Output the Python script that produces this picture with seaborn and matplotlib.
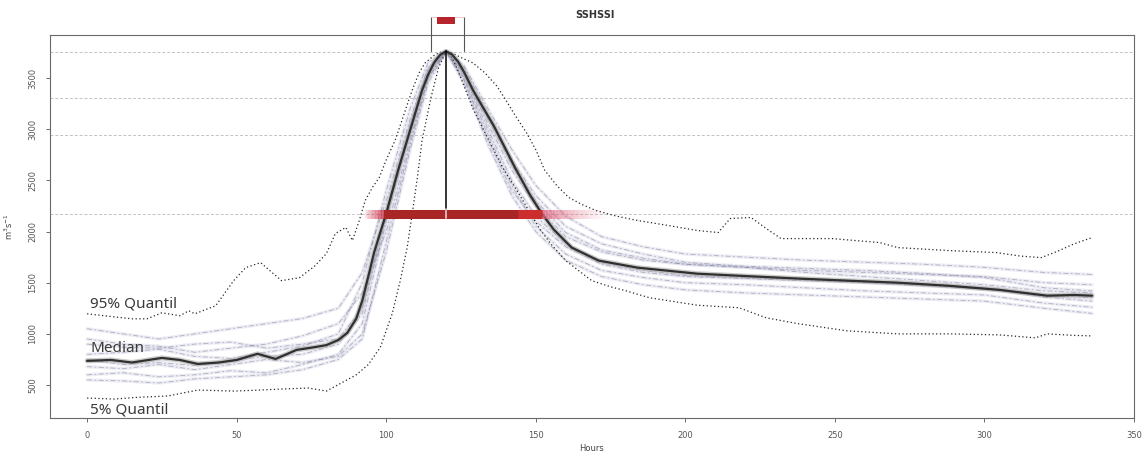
import numpy as np
import pandas as pd
import matplotlib
matplotlib.use("Agg")
import matplotlib.pyplot as plt
from matplotlib.patches import Rectangle
import seaborn as sns

# ---------------- data ----------------
median_hours = [0, 8, 15, 25, 31, 37, 44, 50, 57, 63, 70, 76, 80, 84, 87, 90, 92, 94, 96, 98,
                100, 104, 108, 112, 114, 116, 118, 120, 122, 124, 126, 129, 132, 136, 140, 143,
                148, 152, 156, 162, 171, 184, 204, 220, 238, 254, 271, 288, 305, 321, 330, 336]
median_vals = [736, 745, 720, 765, 745, 706, 720, 745, 805, 755, 843, 870, 890, 940, 1010, 1150,
               1324, 1560, 1800, 1990, 2176, 2600, 2990, 3380, 3530, 3650, 3725, 3760, 3730, 3660,
               3560, 3382, 3230, 3030, 2800, 2627, 2360, 2176, 2020, 1843, 1716, 1647, 1588, 1565,
               1540, 1520, 1500, 1470, 1430, 1373, 1380, 1373]

q95_hours = [0, 8, 15, 20, 25, 31, 34, 36, 43, 49, 53, 58, 65, 71, 76, 80, 83, 86.5, 88.7, 91, 93,
             95.4, 97.7, 100, 103, 106, 108.7, 111, 113, 116, 118, 120, 122, 125, 129, 133, 137,
             140, 143, 147, 150, 153, 157, 161, 165, 170, 177, 184, 194, 204, 211, 215, 222, 227,
             232, 249, 265, 271, 288, 304, 312, 319, 325, 330, 336]
q95_vals = [1196, 1170, 1147, 1147, 1206, 1177, 1226, 1196, 1275, 1520, 1647, 1696, 1520, 1549,
            1660, 1784, 1980, 2040, 1912, 2108, 2304, 2431, 2529, 2700, 2892, 3150, 3382, 3550,
            3647, 3720, 3750, 3760, 3745, 3700, 3647, 3550, 3420, 3284, 3140, 2960, 2800, 2598,
            2450, 2333, 2270, 2206, 2150, 2108, 2060, 2010, 1990, 2127, 2137, 2030, 1931, 1931,
            1892, 1843, 1814, 1794, 1760, 1745, 1814, 1880, 1941]

q05_hours = [0, 9, 17, 27, 37, 49, 57, 65, 74, 80, 85, 90, 94, 98, 102, 104.7, 107, 108.7, 110.3,
             112, 115, 117.5, 120, 122, 124.3, 129, 134.3, 139, 144.3, 151, 155, 160, 168.7, 175,
             180, 188, 204, 218, 227, 238, 254, 271, 288, 305, 317, 321, 330, 336]
q05_vals = [373, 363, 380, 393, 451, 441, 450, 461, 471, 441, 520, 600, 700, 867, 1197, 1520, 1843,
            2176, 2500, 2892, 3313, 3600, 3760, 3700, 3549, 3200, 2892, 2620, 2372, 2040, 1880,
            1716, 1520, 1460, 1422, 1353, 1280, 1255, 1157, 1098, 1030, 1000, 1000, 990, 961,
            1000, 985, 980]

member_hours = [0, 12, 24, 36, 48, 60, 72, 84, 92, 100, 108, 114, 120, 126, 134, 142, 150, 160,
                172, 186, 200, 220, 240, 260, 280, 300, 320, 336]
member_1 = [950, 900, 880, 820, 860, 900, 980, 1100, 1400, 2000, 2900, 3500, 3760, 3550, 3050, 2600,
            2250, 1950, 1800, 1720, 1680, 1650, 1620, 1600, 1580, 1560, 1500, 1480]
member_2 = [600, 620, 580, 600, 640, 620, 700, 800, 1100, 2100, 3000, 3550, 3760, 3500, 2950, 2450,
            2050, 1780, 1620, 1550, 1500, 1480, 1450, 1420, 1400, 1380, 1300, 1260]
member_3 = [800, 820, 850, 780, 760, 820, 880, 1000, 1500, 2400, 3200, 3650, 3760, 3600, 3150, 2700,
            2350, 2050, 1880, 1780, 1700, 1660, 1640, 1620, 1590, 1550, 1450, 1420]
member_4 = [680, 660, 700, 650, 700, 750, 720, 780, 1000, 1800, 2800, 3450, 3760, 3450, 2850, 2350,
            2000, 1720, 1560, 1480, 1430, 1400, 1380, 1360, 1340, 1320, 1250, 1200]
member_5 = [1050, 1000, 950, 1000, 1050, 1100, 1150, 1250, 1600, 2300, 3100, 3600, 3760, 3620, 3200,
            2800, 2450, 2150, 1950, 1850, 1780, 1750, 1720, 1700, 1680, 1650, 1600, 1580]
member_6 = [550, 540, 520, 560, 580, 600, 650, 750, 950, 1900, 2850, 3500, 3760, 3480, 2900, 2400,
            2100, 1850, 1680, 1600, 1560, 1540, 1520, 1500, 1470, 1440, 1380, 1350]
member_7 = [900, 870, 860, 900, 920, 860, 900, 950, 1250, 2200, 3050, 3580, 3760, 3560, 3100, 2650,
            2300, 1990, 1820, 1740, 1680, 1650, 1600, 1560, 1520, 1480, 1420, 1400]
member_8 = [750, 700, 720, 690, 740, 780, 800, 900, 1200, 2150, 3000, 3560, 3760, 3530, 3000, 2500,
            2150, 1880, 1700, 1620, 1570, 1550, 1530, 1510, 1480, 1450, 1360, 1320]
members = [member_1, member_2, member_3, member_4, member_5, member_6, member_7, member_8]

ref_levels = [3755, 3304, 2940, 2176]
peak_hour = 120
peak_value = 3760
bar_level = 2176
bar_start, bar_end = 99, 152
fade_left, fade_right = 93, 174
bracket_left, bracket_right = 115, 126
box_left, box_right = 117, 123
box_low, box_high = 4028, 4096

x_ticks = [0, 50, 100, 150, 200, 250, 300, 350]
y_ticks = [500, 1000, 1500, 2000, 2500, 3000, 3500]
title = "SSHSSI"
x_label = "Hours"
y_label = "m$^3$s$^{-1}$"
label_95 = "95% Quantil"
label_med = "Median"
label_05 = "5% Quantil"

# ---------------- figure ----------------
sns.set_style("white")
plt.rcParams["font.family"] = ["DejaVu Sans"]

fig = plt.figure(figsize=(11.42, 4.57), dpi=100)
ax = fig.add_axes([50 / 1142, 39 / 457, 1084 / 1142, 383 / 457])
ax.set_xlim(-12.4, 350)
ax.set_ylim(178, 3920)

# reference levels
for lv in ref_levels:
    ax.axhline(lv, color="#c2c2c2", lw=0.7, ls=(0, (3, 2)), zorder=1)

# ensemble members
mem_df = pd.DataFrame({
    "hour": member_hours * len(members),
    "value": [v for m in members for v in m],
    "member": [i for i, m in enumerate(members) for _ in m],
})
sns.lineplot(data=mem_df, x="hour", y="value", units="member", estimator=None,
             color="#a4a4cc", lw=2.4, alpha=0.2, ax=ax, zorder=2, legend=False)
sns.lineplot(data=mem_df, x="hour", y="value", units="member", estimator=None,
             color="#85859a", lw=0.6, alpha=0.6, ls=(0, (6, 3, 2, 3)), ax=ax, zorder=2,
             legend=False)

# quantiles
q95_df = pd.DataFrame({"hour": q95_hours, "value": q95_vals})
q05_df = pd.DataFrame({"hour": q05_hours, "value": q05_vals})
for d in (q95_df, q05_df):
    sns.lineplot(data=d, x="hour", y="value", color="#262626", lw=0.9,
                 ls=(0, (1, 2)), ax=ax, zorder=4, legend=False)

# median
med_df = pd.DataFrame({"hour": median_hours, "value": median_vals})
sns.lineplot(data=med_df, x="hour", y="value", color="#a0a0a0", lw=3.6, alpha=0.55,
             ax=ax, zorder=5, legend=False)
sns.lineplot(data=med_df, x="hour", y="value", color="#303030", lw=1.6,
             ax=ax, zorder=6, legend=False)

# red duration bar with faded ends
bar_lw = 6.5
ax.plot([bar_start, bar_end], [bar_level, bar_level], color="#a82626", lw=bar_lw,
        solid_capstyle="butt", zorder=7)
ax.plot([bar_end - 8, bar_end], [bar_level, bar_level], color="#cc2e2e", lw=bar_lw,
        solid_capstyle="butt", zorder=7)
nL = 12
edgesL = np.linspace(fade_left, bar_start, nL + 1)
for i in range(nL):
    ax.plot(edgesL[i:i + 2], [bar_level, bar_level], color="#d0354a",
            alpha=0.1 + 0.8 * (i + 1) / nL, lw=bar_lw, solid_capstyle="butt", zorder=7)
nR = 20
edgesR = np.linspace(bar_end, fade_right, nR + 1)
for i in range(nR):
    ax.plot(edgesR[i:i + 2], [bar_level, bar_level], color="#e0607a",
            alpha=0.75 * (1 - i / nR) ** 1.3, lw=bar_lw, solid_capstyle="butt", zorder=7)

# peak marker
ax.plot([peak_hour, peak_hour], [bar_level, peak_value], color="black", lw=1.1, zorder=8)
ax.plot([peak_hour, peak_hour], [bar_level - 45, bar_level + 45], color="#f3d0d0", lw=1.2, zorder=8)
for bx in (bracket_left, bracket_right):
    ax.plot([bx, bx], [peak_value, box_high], color="#555555", lw=0.8, clip_on=False, zorder=8)
ax.plot([bracket_left, bracket_right], [box_high, box_high], color="#e8c0c0", lw=0.6,
        clip_on=False, zorder=8)
ax.add_patch(Rectangle((box_left, box_low), box_right - box_left, box_high - box_low,
                       facecolor="#b8242c", edgecolor="none", clip_on=False, zorder=9))

# annotations
txt_kw = dict(fontsize=11, color="#3a3a3a", family=["Noto Sans", "DejaVu Sans"])
ax.text(1, 1257, label_95, ha="left", va="baseline", **txt_kw)
ax.text(1, 818, label_med, ha="left", va="baseline", **txt_kw)
ax.text(1, 222, label_05, ha="left", va="baseline", **txt_kw)

# axes cosmetics
ax.set_xticks(x_ticks)
ax.set_yticks(y_ticks)
ax.tick_params(axis="both", direction="out", length=3, width=0.6, labelsize=6,
               colors="#555555", pad=6, bottom=True, left=True)
plt.setp(ax.get_yticklabels(), rotation=90, va="center")
for s in ax.spines.values():
    s.set_color("#6a6a6a")
    s.set_linewidth(0.8)
ax.set_xlabel(x_label, fontsize=6, color="#444444", va="center")
ax.set_ylabel(y_label, fontsize=6, color="#444444")
ax.xaxis.set_label_coords(0.5, -0.08)
ax.yaxis.set_label_coords(-0.032, 0.5)
fig.text(595 / 1142, 1 - 15 / 457, title, ha="center", va="center", fontsize=7,
         fontweight="bold", color="#333333")

fig.savefig("out.png", dpi=100, facecolor="white")
